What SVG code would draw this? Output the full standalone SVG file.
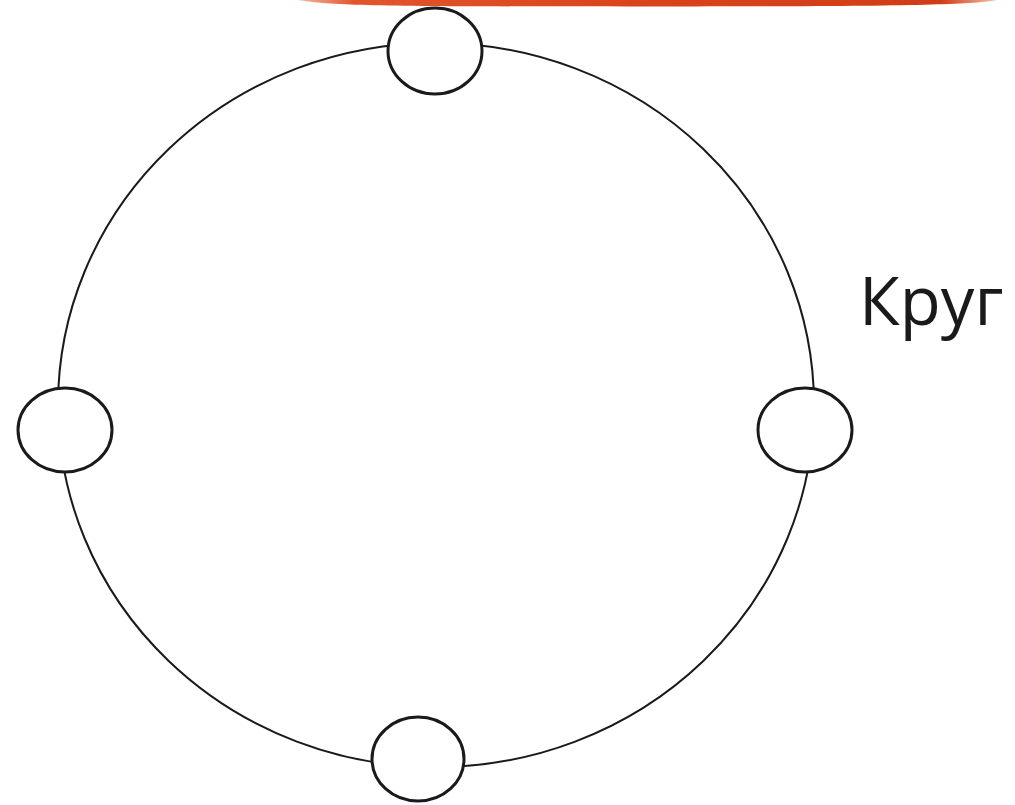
<svg xmlns="http://www.w3.org/2000/svg" width="1015" height="805" viewBox="0 0 1015 805">
<style>
.node{fill:#ffffff;stroke:#1a1a1a;stroke-width:3}
.ring{fill:none;stroke:#1a1a1a;stroke-width:2}
.lbl{font-family:"Open Sans","Noto Sans",sans-serif;font-size:67px;fill:#1a1a1a}
</style>
<defs>
<linearGradient id="bar" x1="298" y1="0" x2="997" y2="0" gradientUnits="userSpaceOnUse">
<stop offset="0" stop-color="#f4b8a0"/>
<stop offset="0.08" stop-color="#e2552c"/>
<stop offset="0.5" stop-color="#d9431c"/>
<stop offset="0.92" stop-color="#cf3d17"/>
<stop offset="1" stop-color="#f0c0a8"/>
</linearGradient>
</defs>
<rect width="1015" height="805" fill="#ffffff"/>
<path d="M298,0 C330,6 400,6.5 647,6.5 C900,6.5 970,5 997,0 Z" fill="url(#bar)"/>
<g id="connectors">
<ellipse class="ring" cx="436" cy="405" rx="378" ry="362"/>
</g>
<g id="node-top"><ellipse class="node" cx="435" cy="51" rx="47" ry="43"/></g>
<g id="node-left"><ellipse class="node" cx="65" cy="430" rx="47" ry="42"/></g>
<g id="node-right"><ellipse class="node" cx="805" cy="430" rx="47" ry="42"/></g>
<g id="node-bottom"><ellipse class="node" cx="418" cy="759" rx="46" ry="42"/></g>
<g id="label"><text class="lbl" x="859" y="325">Круг</text></g>
</svg>
